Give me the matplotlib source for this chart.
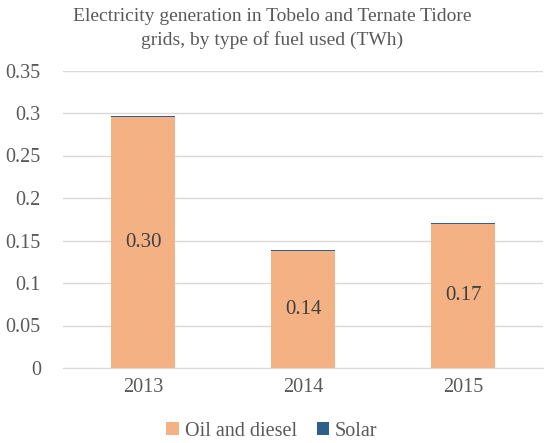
import matplotlib
matplotlib.use("Agg")
import matplotlib.pyplot as plt
import numpy as np

years = ["2013", "2014", "2015"]
oil_diesel = [0.2955, 0.138, 0.170]
solar = [0.001, 0.001, 0.001]
y_ticks = [0, 0.05, 0.1, 0.15, 0.2, 0.25, 0.3, 0.35]
y_tick_labels = ["0", "0.05", "0.1", "0.15", "0.2", "0.25", "0.3", "0.35"]

plt.rcParams["font.family"] = "serif"
plt.rcParams["font.serif"] = ["Liberation Serif", "DejaVu Serif"]
text_color = "#595959"
oil_color = "#F4B183"
solar_color = "#2E5F8A"

fig = plt.figure(figsize=(5.44, 4.43), dpi=100)
ax = fig.add_axes([63 / 544, 1 - 368 / 443, 480 / 544, (368 - 70.5) / 443])

x = np.arange(len(years))
width = 0.405
ax.bar(x, oil_diesel, width, color=oil_color, label="Oil and diesel", zorder=2)
ax.bar(x, solar, width, bottom=oil_diesel, color=solar_color, label="Solar", zorder=2)

for xi, v in zip(x, oil_diesel):
    ax.text(xi, v / 2, f"{v:.2f}", ha="center", va="center",
            fontsize=15, color="#404040", zorder=3)

ax.set_xlim(-0.5, len(years) - 0.5)
ax.set_ylim(0, 0.35)
ax.set_yticks(y_ticks)
ax.set_yticklabels(y_tick_labels, fontsize=14.5, color=text_color)
ax.set_xticks(x)
ax.set_xticklabels(years, fontsize=14.5, color=text_color)
ax.tick_params(axis="both", length=0)
ax.tick_params(axis="y", pad=16)
ax.tick_params(axis="x", pad=7)
ax.grid(axis="y", color="#D9D9D9", linewidth=1, zorder=0)
for s in ["top", "right", "left"]:
    ax.spines[s].set_visible(False)
ax.spines["bottom"].set_color("#D9D9D9")

fig.text(0.5, 1 - 8 / 443, "Electricity generation in Tobelo and Ternate Tidore\ngrids, by type of fuel used (TWh)",
         ha="center", va="top", fontsize=14, color=text_color, linespacing=1.45)

leg = fig.legend(loc="center", bbox_to_anchor=(0.5, 1 - 431 / 443), ncol=2,
                 frameon=False, fontsize=14.5, handlelength=0.6, handleheight=0.6,
                 handletextpad=0.3, columnspacing=1.0)
for t in leg.get_texts():
    t.set_color(text_color)
    t.set_family("serif")

fig.savefig("out.png", dpi=100)
